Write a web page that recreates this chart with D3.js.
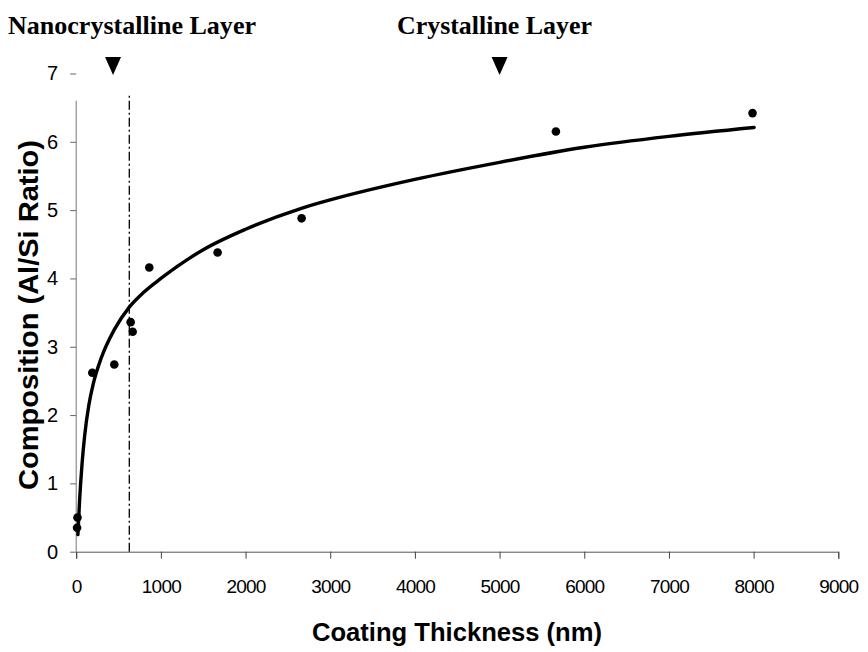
<!DOCTYPE html>
<html>
<head>
<meta charset="utf-8">
<script src="https://cdn.jsdelivr.net/npm/d3@7"></script>
<style>
  html, body { margin: 0; padding: 0; background: #fff; }
  svg { display: block; }
</style>
</head>
<body>
<div id="chart"></div>
<script>
// ---- data ----
const pointX = [10, 15, 190, 450, 643, 667, 863, 1670, 2662, 5665, 7987];
const pointY = [0.35, 0.5, 2.62, 2.74, 3.36, 3.22, 4.16, 4.38, 4.88, 6.15, 6.42];

const curveX = [20, 40, 70, 100, 150, 200, 300, 450, 627, 800, 1000, 1500, 2000, 2642, 3000, 4000, 5000, 6000, 7000, 8006];
const curveY = [0.25, 0.75, 1.3, 1.7, 2.15, 2.45, 2.85, 3.25, 3.58, 3.8, 4.0, 4.42, 4.72, 5.02, 5.15, 5.45, 5.7, 5.92, 6.08, 6.21];

const xTicks = [0, 1000, 2000, 3000, 4000, 5000, 6000, 7000, 8000, 9000];
const yTicks = [0, 1, 2, 3, 4, 5, 6, 7];

const boundaryX = 627;          // dash-dot boundary between layers
const boundaryTop = 6.68;
const layerLabels = ["Nanocrystalline Layer", "Crystalline Layer"];
const layerMarkX = [435, 5000];

const xTitle = "Coating Thickness (nm)";
const yTitle = "Composition (Al/Si Ratio)";

// ---- layout ----
const W = 868, H = 652;
const x0 = 76.2, x1 = 838.3, y0 = 551.7, y1 = 73.5;

const svg = d3.select("#chart").append("svg").attr("width", W).attr("height", H);

const x = d3.scaleLinear().domain([0, 9000]).range([x0, x1]);
const y = d3.scaleLinear().domain([0, 7]).range([y0, y1]);

const sans = "'Liberation Sans', Arial, sans-serif";
const serif = "'Liberation Serif', 'Times New Roman', serif";

// x axis
const xAxis = svg.append("g").attr("transform", `translate(0,${y0})`)
  .call(d3.axisBottom(x).tickValues(xTicks).tickSize(7).tickPadding(21).tickFormat(d3.format("d")));
xAxis.select(".domain").attr("stroke", "#555").attr("stroke-width", 1);
xAxis.selectAll(".tick line").attr("stroke", "#444").attr("stroke-width", 1);
xAxis.selectAll("text").attr("font-family", sans).attr("font-size", 19).attr("fill", "#000")
  .attr("letter-spacing", "-0.8px");

// y axis
const yAxis = svg.append("g").attr("transform", `translate(${x0},0)`)
  .call(d3.axisLeft(y).tickValues(yTicks).tickSize(6).tickPadding(12).tickFormat(d3.format("d")));
yAxis.select(".domain").remove();
yAxis.selectAll(".tick line").attr("stroke", "#666").attr("stroke-width", 1);
yAxis.selectAll("text").attr("font-family", sans).attr("font-size", 20).attr("fill", "#000");
svg.append("line")
  .attr("x1", x0).attr("x2", x0)
  .attr("y1", y(0)).attr("y2", y(6.6))
  .attr("stroke", "#777").attr("stroke-width", 1);

// boundary dash-dot line
svg.append("line")
  .attr("x1", x(boundaryX)).attr("x2", x(boundaryX))
  .attr("y1", y(0)).attr("y2", y(boundaryTop))
  .attr("stroke", "#000").attr("stroke-width", 1.3)
  .attr("stroke-dasharray", "9,3,2,3");

// trend curve
const line = d3.line().x(d => x(d[0])).y(d => y(d[1])).curve(d3.curveMonotoneX);
svg.append("path")
  .datum(curveX.map((v, i) => [v, curveY[i]]))
  .attr("d", line)
  .attr("fill", "none").attr("stroke", "#000").attr("stroke-width", 3.4)
  .attr("stroke-linecap", "round");

// data points
svg.append("g").selectAll("circle")
  .data(pointX.map((v, i) => [v, pointY[i]]))
  .join("circle")
  .attr("cx", d => x(d[0])).attr("cy", d => y(d[1]))
  .attr("r", 4.3).attr("fill", "#000");

// layer labels
svg.append("text").attr("x", 8).attr("y", 34)
  .attr("font-family", serif).attr("font-weight", "bold").attr("font-size", 26)
  .attr("textLength", 248).attr("lengthAdjust", "spacingAndGlyphs")
  .text(layerLabels[0]);
svg.append("text").attr("x", 397).attr("y", 34)
  .attr("font-family", serif).attr("font-weight", "bold").attr("font-size", 26)
  .attr("textLength", 195).attr("lengthAdjust", "spacingAndGlyphs")
  .text(layerLabels[1]);

// triangle markers
svg.append("g").selectAll("path")
  .data(layerMarkX)
  .join("path")
  .attr("d", d => `M${x(d) - 8},57 L${x(d) + 8},57 L${x(d)},75 Z`)
  .attr("fill", "#000");

// axis titles
svg.append("text")
  .attr("x", 457).attr("y", 641)
  .attr("text-anchor", "middle")
  .attr("font-family", sans).attr("font-weight", "bold").attr("font-size", 25)
  .attr("textLength", 290).attr("lengthAdjust", "spacingAndGlyphs")
  .text(xTitle);
svg.append("text")
  .attr("transform", `translate(38,${315}) rotate(-90)`)
  .attr("text-anchor", "middle")
  .attr("font-family", sans).attr("font-weight", "bold").attr("font-size", 28)
  .attr("textLength", 350).attr("lengthAdjust", "spacingAndGlyphs")
  .text(yTitle);
</script>
</body>
</html>
